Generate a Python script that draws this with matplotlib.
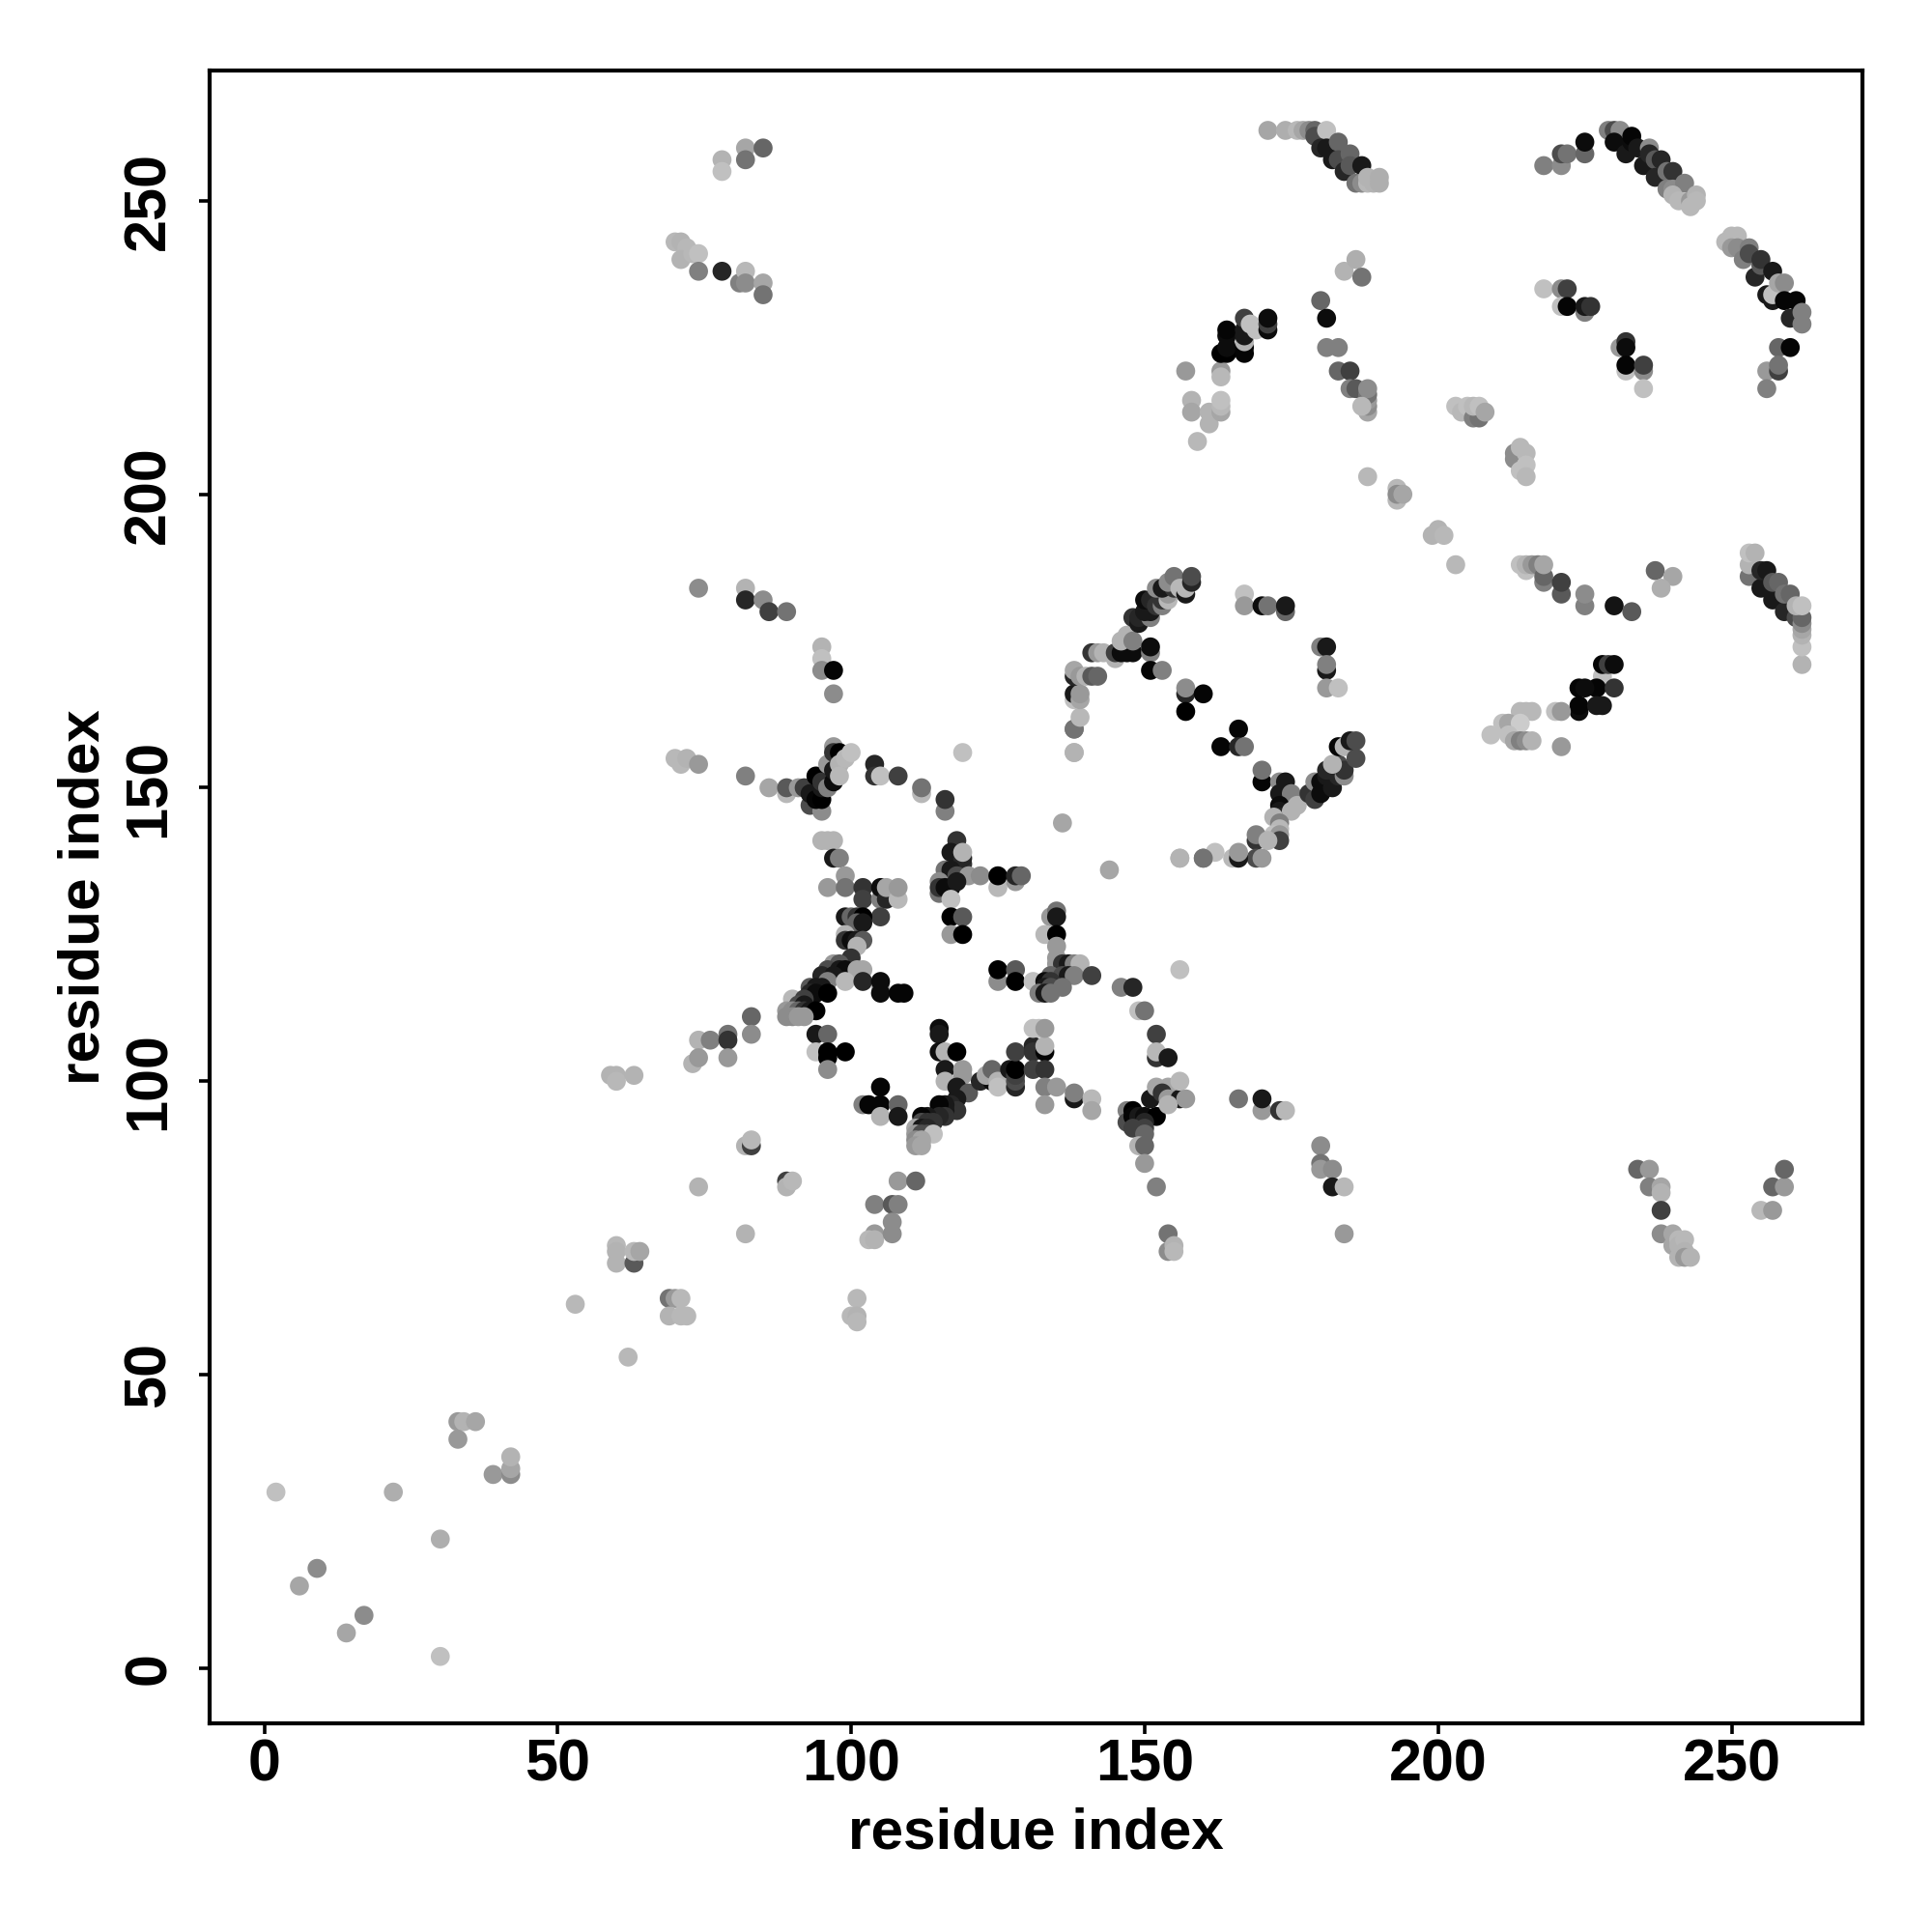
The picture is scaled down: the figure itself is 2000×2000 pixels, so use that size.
import matplotlib
matplotlib.use("Agg")
import matplotlib.pyplot as plt

# contacts: (residue i, residue j, grey level)
corner = [(2,30,.75),(22,30,.68),(30,22,.68),(6,14,.65),(9,17,.55),(14,6,.65),(17,9,.55),(30,2,.75),
          (33,42,.6),(34,42,.7),(36,42,.65),(33,39,.6),(39,33,.6),(42,33,.55),(42,34,.65),(42,36,.7),
          (53,62,.72),(62,53,.72),(69,63,.45),(70,63,.6),(71,63,.72),(69,60,.7),(71,60,.72),(72,60,.72),
          (60,72,.72),(60,71,.7),(60,69,.7),(63,69,.35),(63,71,.72),(64,71,.65),
          (101,63,.72),(100,60,.72),(101,60,.7),(101,59,.72),
          (59,101,.7),(60,101,.7),(60,100,.72),(63,101,.7),
          (74,107,.7),(73,103,.7),(74,104,.6),(76,107,.5),(79,108,.45),(79,107,.2),(79,104,.6),(83,111,.4),(83,108,.55),
          (82,89,.7),(83,89,.25),(83,90,.72),(74,82,.7),(89,83,.25),(89,82,.7),(90,83,.72),(82,74,.7)]

upper_left = [(78,257,.7),(78,255,.75),(82,259,.65),(82,257,.45),(85,259,.4),
              (70,243,.72),(71,243,.7),(72,242,.72),(71,240,.7),(73,241,.72),(74,241,.75),(74,238,.5),(78,238,.15),
              (81,236,.5),(82,238,.72),(82,236,.55),(85,236,.65),(85,234,.45),
              (74,184,.55),(82,184,.7),(82,182,.15),(85,182,.55),(86,180,.25),(89,180,.45),
              (95,174,.7),(95,172,.75),(95,170,.55),(97,170,.02),(97,166,.55),
              (70,155,.72),(71,154,.72),(72,155,.7),(74,154,.6)]

hub_top = [(82,152,.5),(86,150,.65),(89,149,.72),(89,150,.35),(91,150,.6),(92,150,.25),(93,147,.3),(95,146,.55),
           (93,149,.1),(94,148,.02),(95,148,0),(94,152,0),(95,150,.1),(95,151,.2),(96,150,.5),(97,151,.05),
           (96,154,.6),(97,153,.1),(97,157,.6),(97,156,.2),(98,156,0),(98,154,.7),(99,155,.72),(98,152,.72),(100,156,.75),
           (104,154,.15),(104,152,.2),(105,152,.75),(108,152,.25),(112,149,.72),(112,150,.45),(116,146,.5),(116,148,.2),
           (119,156,.75),(138,160,.45),(138,156,.7),(136,144,.65),(144,136,.65),(156,138,.7),(160,138,.45)]

hub_left = [(95,141,.7),(96,141,.7),(97,141,.7),(97,138,.1),(98,138,.5),(99,135,.6),(96,133,.6),(99,133,.45),
            (102,133,.2),(102,131,.25),(105,131,.5),(105,133,.05),(106,131,.15),(106,133,.65),(108,131,.72),(108,133,.6),
            (105,128,.25),(99,128,.1),(100,128,.4),(101,128,.2),(102,128,0),(101,127,.4),(102,127,.1),
            (99,125,.7),(99,124,.2),(100,124,.05),(101,124,.1),(102,124,.35),(101,123,.7),
            (100,121,.2),(97,120,.6),(98,120,.35),(96,119,.3),(98,119,.1),(99,119,.05),(95,118,.15),(97,118,.1),(96,117,.5),
            (93,116,.35),(94,116,.1),(95,116,.1),(93,115,.15),(94,115,.05),(96,115,0),(90,114,.72),(92,114,.25),
            (91,113,.3),(92,113,.1),(89,112,.6),(90,112,.55),(91,112,.4),(92,112,.2),(93,112,.1),(94,112,0),
            (89,111,.55),(90,111,.55),(91,111,.6),(92,111,.6),
            (101,119,.65),(102,119,.65),(99,117,.72),(102,117,.15),(105,116,.7),(105,117,.05),(105,115,.05),(108,115,.02),(109,115,.02),
            (94,108,.1),(96,108,.4),(94,105,.75),(96,104,0),(96,105,0),(99,105,0),(96,102,.55)]

hub_mid = [(118,141,.2),(117,139,.1),(119,137,.2),(119,138,.15),(119,139,.7),(116,136,.45),(117,136,.1),(118,135,.3),
           (120,135,.6),(122,135,.55),(125,133,.72),(125,135,0),(128,134,.6),(128,135,.15),(129,135,.4),
           (115,134,.55),(115,132,.45),(115,133,.2),(116,133,.05),(117,133,.05),(118,134,.1),(117,131,.75),
           (117,128,0),(119,128,.35),(117,125,.6),(119,125,0),(125,117,.55),(125,119,0),(128,119,.35),(128,117,0),
           (134,128,.6),(135,129,.45),(135,128,.1),(133,125,.72),(135,125,0),(135,123,.6),(135,121,.6),(135,120,.6),
           (136,120,.2),(137,120,.1),(138,120,.5),(139,120,.7),(131,117,.75),(134,118,.4),(136,118,.3),(137,118,.1),(138,118,.5),(141,118,.25),
           (133,117,.05),(134,117,.2),(133,116,.1),(134,116,.3),(136,116,.45),(132,115,.5),(133,115,.1),(134,115,.45),
           (146,116,.5),(148,116,.15),(149,112,.75),(150,112,.45),(152,108,.25),(152,104,.2),(152,105,.72),(154,104,.1),(156,119,.75)]

hub_low = [(115,109,.05),(115,108,.1),(115,105,.05),(116,105,.7),(118,105,0),(116,102,.1),(116,100,.7),(119,102,.6),(119,101,.6),
           (118,99,.1),(120,98,.35),(122,100,.15),(118,97,.1),(117,96,.15),(118,95,.2),(116,96,.1),(116,95,.1),(115,96,.02),
           (116,94,.2),(115,94,.15),(113,94,.1),(112,94,.02),(112,93,.3),(113,93,.2),(114,93,.2),(111,92,.65),(112,92,.1),(113,92,.15),
           (111,91,.6),(112,91,.3),(113,91,.3),(114,91,.75),(111,90,.55),(112,90,.65),(111,89,.6),(112,89,.65),
           (105,99,.02),(102,96,.5),(103,96,.02),(105,96,.02),(108,96,.4),(105,94,.7),(108,94,.1),
           (124,100,.05),(123,101,.65),(124,102,.4),(125,100,.7),(125,99,.75),(127,102,.1),(128,99,.15),(128,100,.3),(128,101,.25),(128,102,0),
           (128,105,.25),(131,106,.15),(131,105,.2),(133,105,.02),(133,106,.7),(131,102,.25),(133,102,.2),(131,109,.75),(132,109,.75),(133,109,.6),
           (133,99,.5),(135,99,.6),(133,96,.6),(138,97,.1),(138,98,.5),(141,97,.72),(141,95,.65),
           (147,95,.5),(147,93,.3),(148,95,0),(148,94,.02),(149,94,.1),(150,94,.05),(152,94,0),(150,93,.15),(148,92,.25),(150,92,.25),(150,91,.4),
           (149,89,.7),(150,89,.4),(150,86,.6),(152,82,.5),(151,97,.1),(152,99,.65),(154,99,.65),(153,98,.2),(154,97,.6),(156,97,.1),(157,97,.6),
           (156,100,.72),(154,96,.7),
           (104,79,.5),(107,79,.35),(108,79,.5),(107,76,.55),(104,74,.6),(103,73,.72),(104,73,.7),(107,74,.55),(108,83,.6),(111,83,.4),
           (154,74,.45),(154,71,.55),(155,72,.7),(155,71,.72),
           (166,97,.45),(170,95,.6),(170,97,.1),(173,95,.2),(174,95,.72),
           (180,89,.55),(180,86,.45),(180,85,.6),(182,85,.55),(182,82,.1),(184,82,.72),(184,74,.6)]

ring = [(138,156,.7),(138,160,.45),(139,162,.72),(138,165,.75),(138,166,.1),(139,165,.65),(139,166,.6),
        (138,169,.15),(138,170,.65),(139,169,.6),(140,169,.7),(141,169,.35),(142,169,.4),
        (141,173,.2),(142,173,.6),(143,173,.7),(145,172,.7),(145,173,.25),(146,173,.05),(147,173,.05),(148,173,.05),
        (146,175,.7),(147,176,.7),(148,175,.5),(151,173,.5),(151,174,.05),(151,170,.02),(153,170,.5),
        (148,179,.2),(149,178,.1),(149,179,.15),(151,179,.5),(150,180,.1),(151,180,.1),(150,182,.05),(151,182,.15),
        (152,181,.2),(153,181,.5),(153,182,.2),(154,182,.72),(154,183,.6),(152,184,.55),(153,184,.1),(155,184,.2),(154,185,.55),
        (155,186,.45),(156,184,.72),(157,183,.1),(157,184,.72),(158,185,.15),(158,186,.3),
        (167,183,.75),(167,181,.6),(170,181,.05),(171,181,.45),(174,180,.4),(174,181,.1),
        (180,174,.5),(181,174,.1),(181,170,.1),(181,171,.5),(181,167,.6),(183,167,.75),
        (157,166,.15),(157,167,.55),(160,166,.02),(157,163,0),(166,160,.02),(163,157,.02),(166,157,.15),(167,157,.45),
        (170,151,.02),(170,153,.45),(173,151,.55),(174,151,.1),(173,149,.1),(175,149,.5),(173,147,.05),(173,146,.1),(173,145,.15),
        (172,145,.7),(175,146,.7),(176,147,.7),(173,144,.5),(173,143,.72),(172,142,.75),(173,142,.6),(173,141,.25),
        (169,141,.2),(169,142,.5),(171,141,.7),(169,138,.3),(170,138,.6),(165,138,.72),(166,138,.1),(166,139,.6),(162,139,.75),(160,138,.45),(156,138,.7),
        (178,149,.2),(179,148,.25),(179,151,.55),(180,149,.05),(180,151,.05),(181,150,.05),(182,150,.1),(181,152,.1),(181,153,.15),
        (183,152,.15),(184,152,.55),(183,154,.3),(184,153,.2),(182,154,.7),(183,157,.02),(184,157,.7),(186,155,.3),(185,158,.1),(186,158,.3)]

top_arcs = [(171,262,.65),(174,262,.68),(176,262,.72),(177,262,.65),(178,262,.55),(179,262,.4),(179,261,.3),(181,262,.75),
            (180,259,.15),(181,259,.1),(183,260,.4),(182,257,.1),(183,257,.3),(185,258,.4),(184,255,.15),(185,256,.35),(187,256,.1),
            (186,253,.45),(187,253,.55),(188,253,.72),(189,253,.7),(188,254,.7),(190,253,.68),(190,254,.68),
            (218,256,.5),(221,256,.55),(221,258,.3),(222,258,.45),(225,258,.4),(225,260,.05),
            (229,262,.5),(230,262,.3),(231,262,.55),(230,260,.05),(232,258,.1),(233,260,.05),(233,261,.02),(234,259,.1),(236,259,.55),
            (235,256,.1),(236,258,.15),(237,257,.35),(238,257,.15),(237,254,.15),(239,255,.45),(240,255,.2),(239,252,.5),
            (240,252,.55),(242,253,.5),(240,251,.7),(241,250,.72),(243,250,.6),(243,249,.72),(244,251,.7),(244,250,.72),
            (249,243,.72),(250,244,.72),(251,244,.72),(250,242,.6),(251,242,.55),(253,242,.5),(252,240,.5),(253,241,.3),
            (254,237,.15),(255,239,.35),(255,240,.2),(256,234,.1),(257,238,.1),(257,233,.1),(257,234,.75),(258,236,.65),(259,236,.55),
            (259,233,.02),(261,233,.02),(260,230,.15),(262,229,.5),(262,231,.5)]

upper_mid = [(157,221,.6),(158,216,.7),(158,214,.65),(159,209,.72),(161,212,.7),(161,214,.7),(163,221,.6),(163,220,.72),
             (163,214,.65),(163,215,.72),(163,216,.75),
             (163,224,0),(164,224,0),(164,225,.05),(164,227,.05),(164,228,.02),(167,224,.02),(167,225,.02),(167,226,.7),(167,227,.1),
             (167,228,.1),(167,230,.25),(169,228,.75),(168,229,.75),(171,228,.05),(171,229,.25),(171,230,.05),
             (180,233,.4),(181,230,.05),(181,225,.5),(183,225,.5),(183,221,.4),(185,221,.25),(185,218,.5),(186,218,.35),
             (188,214,.65),(188,215,.55),(188,216,.6),(188,217,.45),(188,218,.55),(187,215,.72),
             (184,238,.7),(186,240,.68),(187,237,.45),
             (203,215,.75),(204,214,.72),(205,215,.75),(206,213,.5),(207,213,.45),(206,215,.72),(207,215,.75),(208,214,.65),
             (213,206,.55),(213,207,.55),(214,208,.72),(215,207,.72),(215,205,.75),(214,204,.75),(215,203,.72),
             (188,203,.72),(193,199,.72),(193,201,.72),(193,200,.55),(194,200,.65),(199,193,.7),(200,194,.7),(201,193,.72),(203,188,.72),
             (218,235,.75),(221,235,.55),(222,235,.25),(221,232,.75),(222,232,.02),(225,231,.5),(225,232,.1),(226,232,.2),
             (231,225,.6),(232,226,.2),(232,225,.05),(232,221,.75),(232,222,.02),(235,221,.55),(235,222,.25),(235,218,.75),
             (258,225,.4),(260,225,.02),(256,221,.6),(258,221,.25),(258,222,.45),(256,218,.5)]

right_block = [(214,188,.75),(215,187,.75),(215,188,.7),(216,188,.6),(217,188,.5),(218,185,.5),(218,186,.4),(218,188,.65),
               (221,183,.35),(221,185,.25),(225,181,.5),(225,183,.55),(230,181,.08),(233,180,.35),(237,187,.4),(240,186,.65),(238,184,.68),
               (253,186,.45),(253,188,.7),(253,190,.75),(254,190,.7),(255,184,.1),(255,187,.15),(256,187,.1),(257,182,.1),(257,185,.35),(258,185,.4),
               (259,180,.15),(259,183,.45),(260,183,.4),(261,179,.3),(262,171,.7),(262,174,.75),(262,176,.7),(262,177,.65),(262,178,.55),
               (262,179,.4),(261,181,.7),(262,181,.75),
               (228,168,.72),(228,169,.75),(228,171,.02),(229,171,.25),(230,171,.05),(227,167,.7),(227,167,.02),(230,167,.2),
               (224,167,.02),(225,167,.05),(224,163,.05),(224,164,.02),(227,164,.1),(228,164,.1),
               (220,163,.75),(221,163,.6),(221,157,.6),(214,163,.72),(215,163,.72),(216,163,.72),
               (211,161,.75),(212,161,.65),(214,161,.8),(209,159,.75),(212,159,.75),(213,158,.65),(214,158,.5),(215,158,.55),(216,158,.7)]

lower_right = [(234,85,.4),(236,85,.6),(236,82,.5),(238,82,.65),(238,81,.7),(238,78,.25),(238,74,.55),(240,74,.65),(240,72,.65),
               (241,73,.72),(241,72,.7),(242,73,.72),(242,71,.7),(241,70,.7),(242,70,.6),(243,70,.7),
               (255,78,.72),(257,78,.6),(257,82,.4),(259,82,.6),(259,85,.4)]

TICKS = [0, 50, 100, 150, 200, 250]

contacts = corner + upper_left + hub_top + hub_left + hub_mid + hub_low + ring + top_arcs + upper_mid + right_block + lower_right
res_i = [c[0] for c in contacts]
res_j = [c[1] for c in contacts]
grey = [c[2] for c in contacts]

plt.rcParams.update({"font.family": ["Liberation Sans", "DejaVu Sans"], "font.weight": "bold"})

fig = plt.figure(figsize=(10, 10), dpi=200)
ax = fig.add_axes([217 / 2000, 1 - 1784 / 2000, 1711 / 2000, 1711 / 2000])
ax.scatter(res_i, res_j, c=grey, cmap="gray", vmin=0, vmax=1, s=50, linewidths=0, clip_on=False)
ax.set_xlim(-9.3, 272.3)
ax.set_ylim(-9.4, 272.2)
ax.set_xticks(TICKS)
ax.set_yticks(TICKS)
ax.tick_params(axis="both", labelsize=22, length=4, width=1.3)
ax.tick_params(axis="x", pad=1.5)
ax.tick_params(axis="y", labelrotation=90, pad=8)
for label in ax.get_yticklabels():
    label.set_va("center")
for side in ax.spines.values():
    side.set_linewidth(1.5)
ax.set_xlabel("residue index", fontsize=21.7, fontweight="bold", labelpad=5)
ax.set_ylabel("residue index", fontsize=21.7, fontweight="bold", labelpad=4.5)

fig.savefig("out.png", dpi=200)
